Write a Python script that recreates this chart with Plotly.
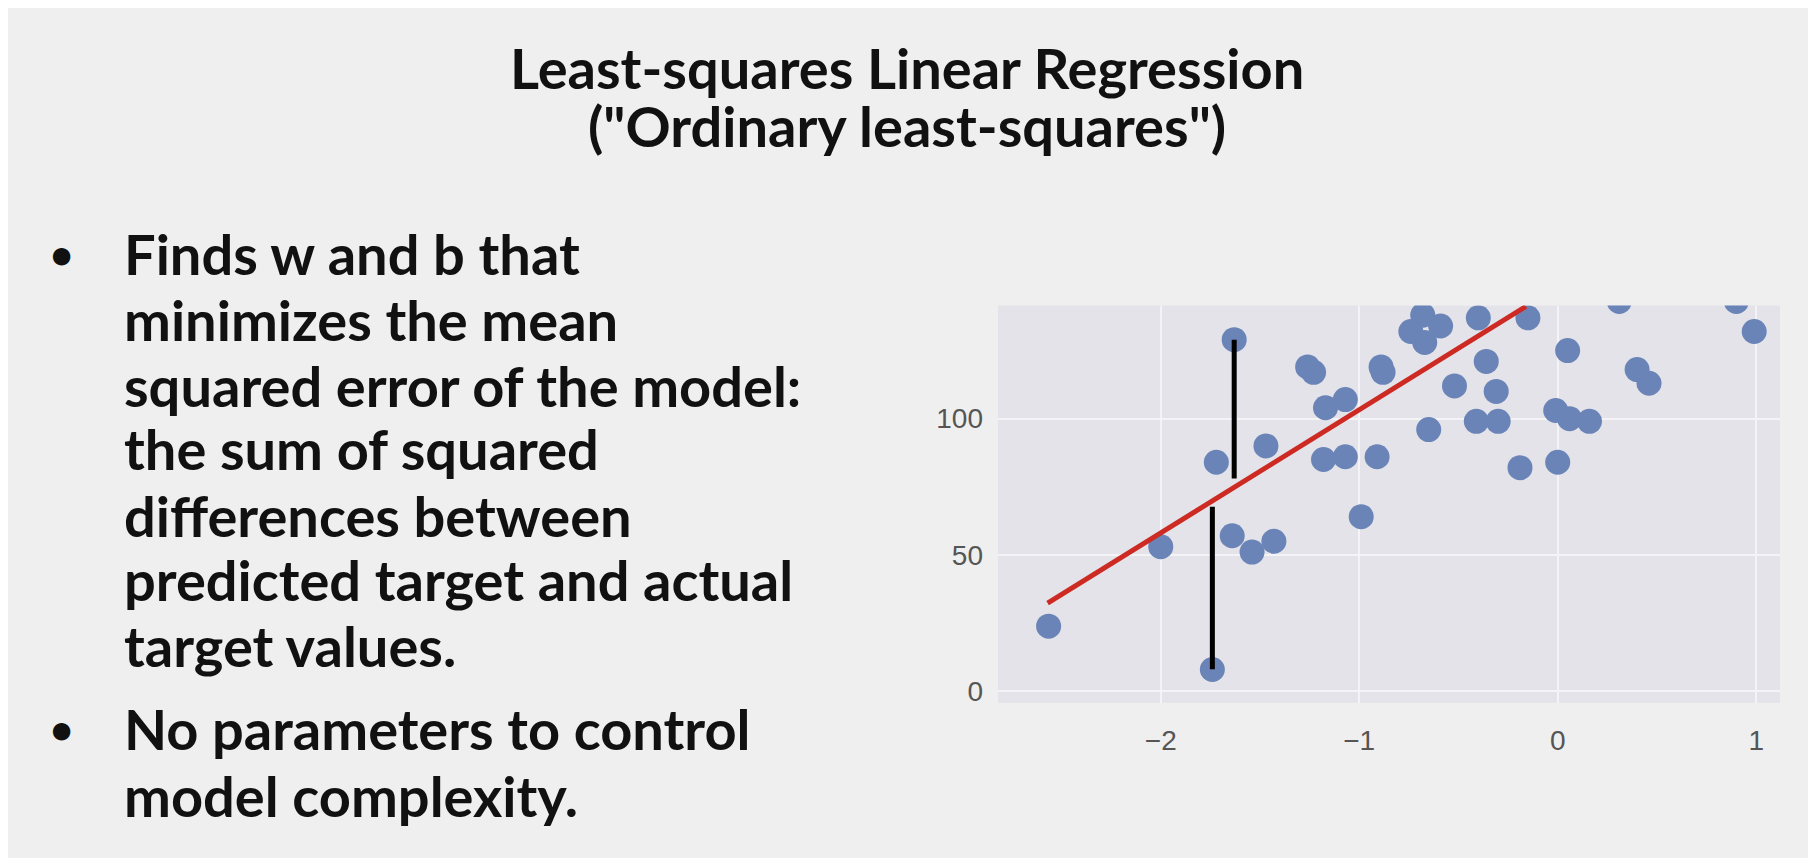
import plotly.graph_objects as go

xs = [-2.565, -1.74, -2.0, -1.72, -1.64, -1.54, -1.43, -1.47, -1.63, -1.26, -1.23, -1.17, -1.07,
      -1.18, -1.07, -0.91, -0.99, -0.89, -0.88, -0.68, -0.74, -0.67, -0.59, -0.65, -0.52, -0.41,
      -0.30, -0.31, -0.36, -0.40, -0.15, -0.19, 0.0, -0.01, 0.06, 0.16, 0.05, 0.40, 0.46, 0.99,
      0.31, 0.90]
ys = [23.8, 7.9, 53, 84, 57, 51, 55, 90, 129, 119, 117, 104, 107,
      85, 86, 86, 64, 119, 117, 138, 132, 128, 134, 96, 112, 99,
      99, 110, 121, 137, 137, 82, 84, 103, 100, 99, 125, 118, 113, 132,
      143, 143]

fit_x = [-2.57, -0.16]
fit_y = [32.3, 141.2]

# residual segments (x, y_point, y_on_line)
res_x = [-1.63, -1.74]
res_top = [129, 67.7]
res_bot = [78, 8]

title_lines = ["Least-squares Linear Regression", '("Ordinary least-squares")']
bullet1 = ["Finds w and b that", "minimizes the mean", "squared error of the model:",
           "the sum of squared", "differences between", "predicted target and actual",
           "target values."]
bullet2 = ["No parameters to control", "model complexity."]

fig = go.Figure()
fig.add_trace(go.Scatter(x=xs, y=ys, mode="markers",
                         marker=dict(size=25, color="#6a84b8"), cliponaxis=True))
for x, a, b in zip(res_x, res_top, res_bot):
    fig.add_trace(go.Scatter(x=[x, x], y=[a, b], mode="lines",
                             line=dict(color="black", width=5)))
fig.add_trace(go.Scatter(x=fit_x, y=fit_y, mode="lines",
                         line=dict(color="#cc2a22", width=5)))

W, H = 1816, 858
font = "Lato"
for i, t in enumerate(title_lines):
    fig.add_annotation(text=f"<b>{t}</b>", x=0.495, y=1 - (60 + 58 * i) / H, xref="paper", yref="paper",
                       showarrow=False, xanchor="center", yanchor="middle",
                       font=dict(family=font, size=56, color="#111"))

line_y = [247, 313, 379, 443, 510, 574, 640]
for y, t in zip(line_y, bullet1):
    fig.add_annotation(text=f"<b>{t}</b>", x=114 / W, y=1 - y / H, xref="paper", yref="paper",
                       showarrow=False, xanchor="left", yanchor="middle",
                       font=dict(family=font, size=56, color="#111"))
for y, t in zip([724, 791], bullet2):
    fig.add_annotation(text=f"<b>{t}</b>", x=114 / W, y=1 - y / H, xref="paper", yref="paper",
                       showarrow=False, xanchor="left", yanchor="middle",
                       font=dict(family=font, size=56, color="#111"))
for y in [247, 724]:
    fig.add_annotation(text="<b>•</b>", x=40 / W, y=1 - y / H, xref="paper", yref="paper",
                       showarrow=False, xanchor="left", yanchor="middle",
                       font=dict(family=font, size=40, color="#111"))

fig.update_layout(
    width=W, height=H, showlegend=False,
    paper_bgcolor="#efefef", plot_bgcolor="#e3e3e9",
    margin=dict(l=0, r=0, t=0, b=0),
    xaxis=dict(domain=[990 / W, 1772 / W], range=[-2.82, 1.12], tickvals=[-2, -1, 0, 1],
               ticktext=["−2", "−1", "0", "1"], gridcolor="#f4f4f6", gridwidth=2,
               zeroline=False, showline=False, ticks="", ticklabelstandoff=18,
               tickfont=dict(family="Liberation Sans", size=28, color="#555")),
    yaxis=dict(domain=[1 - 698 / H, 1 - 299 / H], range=[-4.3, 141.5], tickvals=[0, 50, 100],
               gridcolor="#f4f4f6", gridwidth=2, zeroline=False, showline=False, ticks="",
               ticklabelstandoff=14,
               tickfont=dict(family="Liberation Sans", size=28, color="#555")),
)
fig.write_html("out.html")
